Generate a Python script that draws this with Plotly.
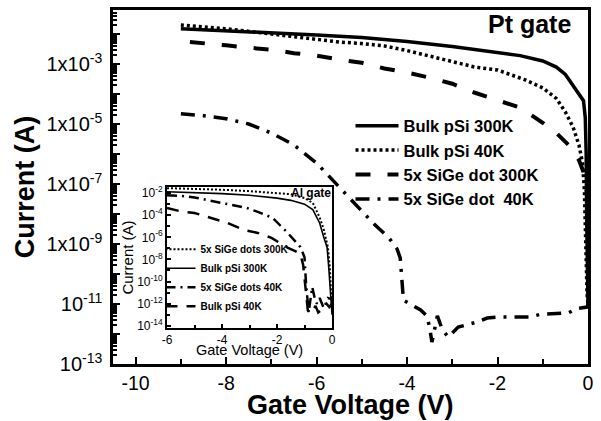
import plotly.graph_objects as go

FONT = "Liberation Sans, Arial, sans-serif"

# ---------------- main plot data (Pt gate) ----------------
v_bulk300 = [-9, -8, -7, -6, -5, -4, -3, -2, -1.5, -1, -0.7, -0.5, -0.35, -0.2, -0.1,
             -0.06, -0.04, -0.03, -0.02, -0.01, 0]
i_bulk300 = [1.5e-2, 1.3e-2, 1.1e-2, 9.3e-3, 7.6e-3, 5.6e-3, 3.8e-3, 2.5e-3, 1.9e-3, 1.26e-3,
             7.9e-4, 4.5e-4, 2.2e-4, 1.0e-4, 6.0e-5, 1.6e-5, 1.0e-6, 1.0e-8, 1.0e-10, 1.6e-11, 1.0e-11]

v_bulk40 = [-9, -8, -7, -6, -5.5, -5, -4.5, -4, -3.3, -2.5, -2, -1.4, -1, -0.7, -0.5, -0.33,
            -0.2, -0.12, -0.08, -0.06, -0.04, -0.02, 0]
i_bulk40 = [2.0e-2, 1.5e-2, 1.0e-2, 6.8e-3, 5.4e-3, 4.8e-3, 4.0e-3, 2.8e-3, 1.6e-3, 7.9e-4,
            6.3e-4, 3.0e-4, 1.6e-4, 7.1e-5, 2.5e-5, 7.9e-6, 2.0e-6, 5.0e-7, 6.3e-8, 3.2e-9,
            1.6e-10, 2.0e-11, 1.0e-11]

v_sige300 = [-8.8, -8.5, -8, -7.5, -7, -6.5, -6, -5.5, -5, -4.5, -4, -3.5, -3, -2.5, -2, -1.5,
             -1, -0.7, -0.4, -0.2, -0.1, -0.05, 0]
i_sige300 = [5.4e-3, 5.0e-3, 4.2e-3, 3.5e-3, 3.0e-3, 2.3e-3, 1.9e-3, 1.4e-3, 1.1e-3, 7.1e-4,
             5.2e-4, 3.5e-4, 2.2e-4, 1.1e-4, 6.3e-5, 3.5e-5, 1.1e-5, 5.0e-6, 1.8e-6, 6.3e-7,
             2.5e-7, 1.0e-7, 2.5e-8]

v_sige40 = [-9, -8.5, -8, -7.5, -7, -6.5, -6, -5.5, -5.2, -4.97, -4.75, -4.4, -4.22, -4.15,
            -4.12, -4.1, -4.08, -3.7, -3.56, -3.5, -3.45, -3.33, -3.22, -3.09, -2.87, -2.45,
            -2.23, -1.94, -1.57, -1.28, -1.06, -0.62, -0.44, -0.24, -0.02, 0]
i_sige40 = [2.2e-5, 1.9e-5, 1.5e-5, 1.0e-5, 5.0e-6, 2.0e-6, 5.0e-7, 7.9e-8, 2.5e-8, 1.1e-8,
            5.0e-9, 1.6e-9, 6.8e-10, 3.4e-10, 1.0e-10, 3.2e-11, 1.35e-11, 6.3e-12, 4.0e-12,
            1.6e-12, 5.4e-13, 4.0e-12, 1.4e-12, 7.9e-13, 1.7e-12, 2.5e-12, 3.4e-12, 3.7e-12,
            3.7e-12, 3.7e-12, 4.5e-12, 4.7e-12, 5.0e-12, 7.1e-12, 7.9e-12, 1.0e-11]

# ---------------- inset data (Al gate) ----------------
vi_sige300 = [-6, -5, -4, -3, -2, -1.5, -1, -0.7, -0.45, -0.3, -0.15, -0.08, -0.04, 0]
ii_sige300 = [2.8e-2, 2.5e-2, 2.0e-2, 1.5e-2, 1.0e-2, 7.9e-3, 3.5e-3, 1.3e-3, 6.3e-5,
              5.0e-6, 1.3e-7, 2.0e-9, 2.0e-11, 1.0e-12]

vi_bulk300 = [-6, -5, -4, -3, -2, -1.5, -1, -0.7, -0.45, -0.3, -0.18, -0.12, -0.07, 0]
ii_bulk300 = [1.3e-2, 1.1e-2, 8.9e-3, 6.3e-3, 3.5e-3, 2.2e-3, 1.0e-3, 3.2e-4, 2.0e-5,
              1.0e-6, 1.3e-7, 2.0e-9, 1.0e-11, 1.0e-13]

vi_sige40 = [-6, -5.5, -5, -4.2, -3.5, -3.1, -2.7, -2.15, -1.9, -1.65, -1.15, -1.05, -1.0,
             -0.95, -0.9, -0.85, -0.72, -0.62, -0.55, -0.45, -0.3, -0.15, 0]
ii_sige40 = [6.3e-3, 5.6e-3, 4.0e-3, 1.6e-3, 7.9e-4, 4.5e-4, 2.0e-4, 5.6e-5, 1.3e-5,
             3.2e-6, 1.3e-7, 2.5e-8, 1.6e-8, 1.0e-10, 4.0e-12, 1.6e-13, 3.2e-11, 2.5e-12,
             1.0e-12, 3.2e-12, 4.0e-13, 3.2e-12, 2.5e-12]

vi_bulk40 = [-6, -5.5, -5, -4.5, -3.8, -3.2, -2.7, -2.2, -1.6, -1.3, -1.15, -1.05, -0.98,
             -0.93, -0.88, -0.75, -0.6, -0.5, -0.35, -0.2, -0.1, 0]
ii_bulk40 = [4.5e-4, 2.2e-4, 1.6e-4, 6.3e-5, 2.0e-5, 4.5e-6, 2.5e-6, 8.9e-7, 1.1e-7,
             5.0e-8, 3.2e-8, 3.2e-9, 1.0e-10, 3.2e-12, 2.5e-13, 1.3e-13, 6.3e-13, 1.6e-13,
             3.2e-13, 1.0e-12, 5.0e-13, 1.0e-12]

# tick labels
main_x_ticks = [-10, -8, -6, -4, -2, 0]
main_x_text = ["-10", "-8", "-6", "-4", "-2", "0"]
main_y_decades = list(range(-13, -1))
main_y_text = {-3: "1x10<sup>-3</sup>", -5: "1x10<sup>-5</sup>", -7: "1x10<sup>-7</sup>",
               -9: "1x10<sup>-9</sup>", -11: "10<sup>-11</sup>", -13: "10<sup>-13</sup>"}
inset_x_ticks = [-6, -4, -2, 0]
inset_x_text = ["-6", "-4", "-2", "0"]
inset_y_decades = [-14, -12, -10, -8, -6, -4, -2]

fig = go.Figure()

main_traces = [
    (v_bulk300, i_bulk300, "Bulk pSi 300K", dict(width=3.5, dash="solid")),
    (v_bulk40, i_bulk40, "Bulk pSi 40K", dict(width=3.5, dash="3px,3px")),
    (v_sige300, i_sige300, "5x SiGe dot 300K", dict(width=4, dash="15px,17px")),
    (v_sige40, i_sige40, "5x SiGe dot\u00a0 40K", dict(width=3.5, dash="14px,8px,3px,8px")),
]
for x, y, name, ln in main_traces:
    fig.add_trace(go.Scatter(x=x, y=y, mode="lines", name=name,
                             line=dict(color="black", **ln), legend="legend"))

inset_traces = [
    (vi_sige300, ii_sige300, "5x SiGe dots 300K", dict(width=2, dash="2px,2px")),
    (vi_bulk300, ii_bulk300, "Bulk pSi 300K", dict(width=1.6, dash="solid")),
    (vi_sige40, ii_sige40, "5x SiGe dots 40K", dict(width=2.5, dash="10px,5px,2px,5px")),
    (vi_bulk40, ii_bulk40, "Bulk pSi 40K", dict(width=2.5, dash="12px,9px")),
]
for x, y, name, ln in inset_traces:
    fig.add_trace(go.Scatter(x=x, y=y, mode="lines", name=name, xaxis="x2", yaxis="y2",
                             line=dict(color="black", **ln), legend="legend2"))

minor_main_y = [k * 10.0 ** d for d in range(-13, -1) for k in range(2, 10)]

fig.update_layout(
    width=601, height=421,
    margin=dict(l=113, r=13, t=10, b=57),
    paper_bgcolor="white", plot_bgcolor="white",
    font=dict(family=FONT, color="black"),
    xaxis=dict(domain=[0, 1], range=[-10.5, 0], tickmode="array", automargin=False,
               tickvals=main_x_ticks, ticktext=main_x_text,
               ticks="inside", ticklen=7, tickwidth=2, tickcolor="black",
               linewidth=2.5, linecolor="black", mirror=True,
               showgrid=False, zeroline=False, tickfont=dict(size=19.5),
               minor=dict(tickvals=[-9, -7, -5, -3, -1], ticks="inside", ticklen=5,
                          tickwidth=2, tickcolor="black", showgrid=False)),
    yaxis=dict(domain=[0, 1], type="log", range=[-13, -1.2], tickmode="array", automargin=False,
               tickvals=[10.0 ** d for d in main_y_decades],
               ticktext=[main_y_text.get(d, "") for d in main_y_decades],
               ticklabelstandoff=4,
               ticks="inside", ticklen=7, tickwidth=2, tickcolor="black",
               linewidth=2.5, linecolor="black", mirror=True,
               showgrid=False, zeroline=False, tickfont=dict(size=20),
               minor=dict(tickvals=minor_main_y, ticks="inside", ticklen=4,
                          tickwidth=1.5, tickcolor="black", showgrid=False),
               title=dict(text="Current (A)", font=dict(size=27, weight="bold"),
                          standoff=4)),
    xaxis2=dict(domain=[0.1137, 0.4611], anchor="y2", range=[-6, 0], tickmode="array",
                automargin=False,
                tickvals=inset_x_ticks, ticktext=inset_x_text,
                ticks="inside", ticklen=4, tickwidth=1.5, tickcolor="black",
                linewidth=2, linecolor="black", mirror=True,
                showgrid=False, zeroline=False, tickfont=dict(size=12),
                minor=dict(tickvals=[-5, -3, -1], ticks="inside", ticklen=3,
                           tickwidth=1.5, tickcolor="black", showgrid=False)),
    yaxis2=dict(domain=[0.1017, 0.5], anchor="x2", type="log", range=[-14.2, -1.45],
                tickmode="array", automargin=False,
                tickvals=[10.0 ** d for d in inset_y_decades],
                ticktext=["10<sup>%d</sup>" % d for d in inset_y_decades],
                ticks="inside", ticklen=4, tickwidth=1.5, tickcolor="black",
                linewidth=2, linecolor="black", mirror=True,
                showgrid=False, zeroline=False, tickfont=dict(size=12),
                minor=dict(tickvals=[10.0 ** d for d in range(-13, -1, 2)], ticks="inside",
                           ticklen=3, tickwidth=1.5, tickcolor="black", showgrid=False),
                title=dict(text="Current (A)", font=dict(size=15), standoff=0)),
    legend=dict(x=0.5, y=0.722, xanchor="left", yanchor="top", bgcolor="rgba(0,0,0,0)",
                font=dict(size=16.5, weight="bold"), itemwidth=43, borderwidth=0),
    legend2=dict(x=0.1, y=0.365, xanchor="left", yanchor="top", bgcolor="rgba(0,0,0,0)",
                 font=dict(size=10, weight="bold"), itemwidth=30, borderwidth=0),
    annotations=[
        dict(text="Gate Voltage (V)", x=0.5, y=-0.116, xref="paper", yref="paper",
             xanchor="center", yanchor="middle", showarrow=False,
             font=dict(size=27, weight="bold")),
        dict(text="Gate Voltage (V)", x=0.2874, y=0.039, xref="paper", yref="paper",
             xanchor="center", yanchor="middle", showarrow=False, font=dict(size=14.5)),
        dict(text="Pt gate", x=0.876, y=0.96, xref="paper", yref="paper", xanchor="center",
             showarrow=False, font=dict(size=25, weight="bold"), yanchor="middle"),
        dict(text="Al gate", x=0.4168, y=0.483, xref="paper", yref="paper", xanchor="center",
             showarrow=False, font=dict(size=12, weight="bold"), yanchor="middle"),
    ],
)

fig.write_html("out.html")
